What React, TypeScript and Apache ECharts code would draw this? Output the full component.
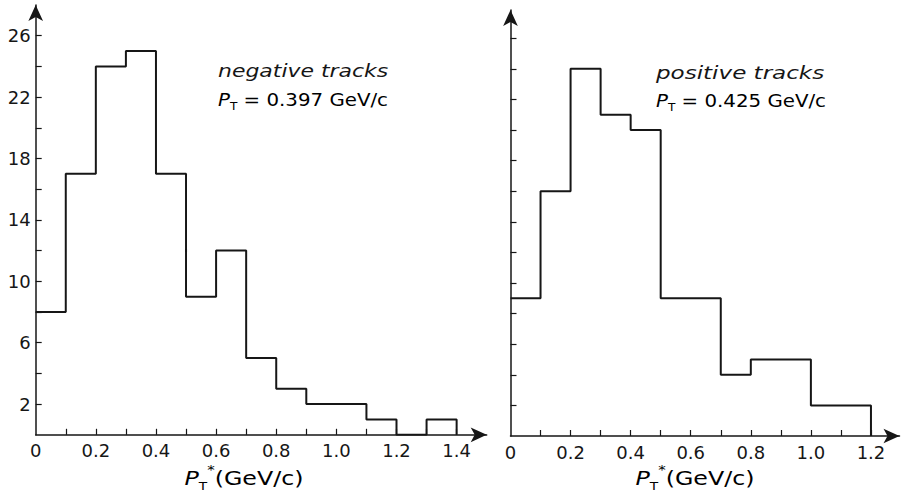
import React, { useEffect, useRef } from "react";
import * as echarts from "echarts";

// ---- data ----
const negEdges = [0, 0.1, 0.2, 0.3, 0.4, 0.5, 0.6, 0.7, 0.8, 0.9, 1.0, 1.1, 1.2, 1.3, 1.4];
const negCounts = [8, 17, 24, 25, 17, 9, 12, 5, 3, 2, 2, 1, 0, 1];
const posEdges = [0, 0.1, 0.2, 0.3, 0.4, 0.5, 0.6, 0.7, 0.8, 0.9, 1.0, 1.1, 1.2];
const posCounts = [9, 16, 24, 21, 20, 9, 9, 4, 5, 5, 2, 2];

const yTickValues = [2, 4, 6, 8, 10, 12, 14, 16, 18, 20, 22, 24, 26];
const yLabelValues = [2, 6, 10, 14, 18, 22, 26];
const negXTicks = [0.1, 0.2, 0.3, 0.4, 0.5, 0.6, 0.7, 0.8, 0.9, 1.0, 1.1, 1.2, 1.3, 1.4];
const negXLabels = [0, 0.2, 0.4, 0.6, 0.8, 1.0, 1.2, 1.4];
const posXTicks = [0.1, 0.2, 0.3, 0.4, 0.5, 0.6, 0.7, 0.8, 0.9, 1.0, 1.1, 1.2];
const posXLabels = [0, 0.2, 0.4, 0.6, 0.8, 1.0, 1.2];

const negTitle = "negative tracks";
const posTitle = "positive tracks";
const negMean = "0.397";
const posMean = "0.425";

const FONT = "DejaVu Sans";
const INK = "#161616";

function stepData(edges: number[], counts: number[]) {
  return edges.map((e, i) => [e, i < counts.length ? counts[i] : 0]);
}

const fmtX = (v: number) => (Math.abs(v) < 1e-9 ? "0" : v.toFixed(1));

const axisLineStyle = {
  show: true,
  symbol: ["none", "arrow"],
  symbolSize: [11, 16],
  lineStyle: { color: INK, width: 1.5 },
};

export default function App() {
  const ref = useRef<HTMLDivElement>(null);
  useEffect(() => {
    if (!ref.current) return;
    const chart = echarts.init(ref.current, undefined, { renderer: "svg" });
    const xAxisCommon = {
      type: "value" as const,
      min: 0,
      splitLine: { show: false },
      axisLine: axisLineStyle,
    };
    const yAxisCommon = {
      type: "value" as const,
      min: 0,
      splitLine: { show: false },
      axisLine: axisLineStyle,
      axisTick: {
        show: true,
        inside: true,
        length: 6,
        customValues: yTickValues,
        lineStyle: { color: INK, width: 1.2 },
      },
    };
    const richSub = {
      p: { fontFamily: FONT, fontStyle: "italic", fontSize: 18, color: INK, lineHeight: 26, verticalAlign: "middle" },
      n: { fontFamily: FONT, fontSize: 18, color: INK, lineHeight: 26, verticalAlign: "middle" },
      sub: { fontFamily: FONT, fontSize: 11, color: INK, lineHeight: 12, verticalAlign: "bottom" },
      sup: { fontFamily: FONT, fontSize: 12, color: INK, lineHeight: 12, verticalAlign: "top" },
      pa: { fontFamily: FONT, fontStyle: "italic", fontSize: 19, color: INK, lineHeight: 28, verticalAlign: "middle" },
      na: { fontFamily: FONT, fontSize: 19, color: INK, lineHeight: 28, verticalAlign: "middle" },
    };
    const option: any = {
      animation: false,
      backgroundColor: "#ffffff",
      grid: [
        { left: 35.7, top: 5, width: 451, height: 429.8, outerBoundsMode: "none", containLabel: false },
        { left: 510.5, top: 10, width: 389, height: 426, outerBoundsMode: "none", containLabel: false },
      ],
      xAxis: [
        {
          ...xAxisCommon,
          gridIndex: 0,
          max: 1.5,
          axisTick: {
            show: true,
            inside: true,
            length: 6,
            customValues: negXTicks,
            lineStyle: { color: INK, width: 1.2 },
          },
          axisLabel: {
            show: true,
            customValues: negXLabels,
            formatter: fmtX,
            color: INK,
            fontFamily: FONT,
            fontSize: 18,
            margin: 7,
          },
        },
        {
          ...xAxisCommon,
          gridIndex: 1,
          max: 1.295,
          axisTick: {
            show: true,
            inside: true,
            length: 6,
            customValues: posXTicks,
            lineStyle: { color: INK, width: 1.2 },
          },
          axisLabel: {
            show: true,
            customValues: posXLabels,
            formatter: fmtX,
            color: INK,
            fontFamily: FONT,
            fontSize: 18,
            margin: 7,
          },
        },
      ],
      yAxis: [
        {
          ...yAxisCommon,
          gridIndex: 0,
          max: 28,
          axisLabel: {
            show: true,
            customValues: yLabelValues,
            color: INK,
            fontFamily: FONT,
            fontSize: 18,
            margin: 5,
          },
        },
        {
          ...yAxisCommon,
          gridIndex: 1,
          max: 27.84,
          axisLabel: { show: false },
        },
      ],
      series: [
        {
          name: negTitle,
          type: "line",
          step: "end",
          xAxisIndex: 0,
          yAxisIndex: 0,
          symbol: "none",
          data: stepData(negEdges, negCounts),
          lineStyle: { color: INK, width: 2 },
        },
        {
          name: posTitle,
          type: "line",
          step: "end",
          xAxisIndex: 1,
          yAxisIndex: 1,
          symbol: "none",
          data: stepData(posEdges, posCounts),
          lineStyle: { color: INK, width: 2 },
        },
      ],
      graphic: [
        {
          type: "text",
          x: 218,
          y: 71,
          scaleX: 1.22,
          style: {
            text: negTitle,
            fontFamily: FONT,
            fontStyle: "italic",
            fontSize: 18,
            fill: INK,
            align: "left",
            verticalAlign: "middle",
          },
        },
        {
          type: "text",
          x: 218,
          y: 99,
          scaleX: 1.1,
          style: {
            text: `{p|P}{sub|T}{n| = ${negMean} GeV/c}`,
            rich: richSub,
            align: "left",
            verticalAlign: "middle",
          },
        },
        {
          type: "text",
          x: 656,
          y: 73,
          scaleX: 1.28,
          style: {
            text: posTitle,
            fontFamily: FONT,
            fontStyle: "italic",
            fontSize: 18,
            fill: INK,
            align: "left",
            verticalAlign: "middle",
          },
        },
        {
          type: "text",
          x: 656,
          y: 100,
          scaleX: 1.1,
          style: {
            text: `{p|P}{sub|T}{n| = ${posMean} GeV/c}`,
            rich: richSub,
            align: "left",
            verticalAlign: "middle",
          },
        },
        {
          type: "text",
          x: 244,
          y: 478,
          scaleX: 1.25,
          style: {
            text: "{pa|P}{sub|T}{sup|*}{na|(GeV/c)}",
            rich: richSub,
            align: "center",
            verticalAlign: "middle",
          },
        },
        {
          type: "text",
          x: 695,
          y: 478,
          scaleX: 1.25,
          style: {
            text: "{pa|P}{sub|T}{sup|*}{na|(GeV/c)}",
            rich: richSub,
            align: "center",
            verticalAlign: "middle",
          },
        },
      ],
    };
    chart.setOption(option);
    return () => chart.dispose();
  }, []);
  return (
    <div
      ref={ref}
      style={{ position: "fixed", left: 0, top: 0, width: 901, height: 496, background: "#fff" }}
    />
  );
}
